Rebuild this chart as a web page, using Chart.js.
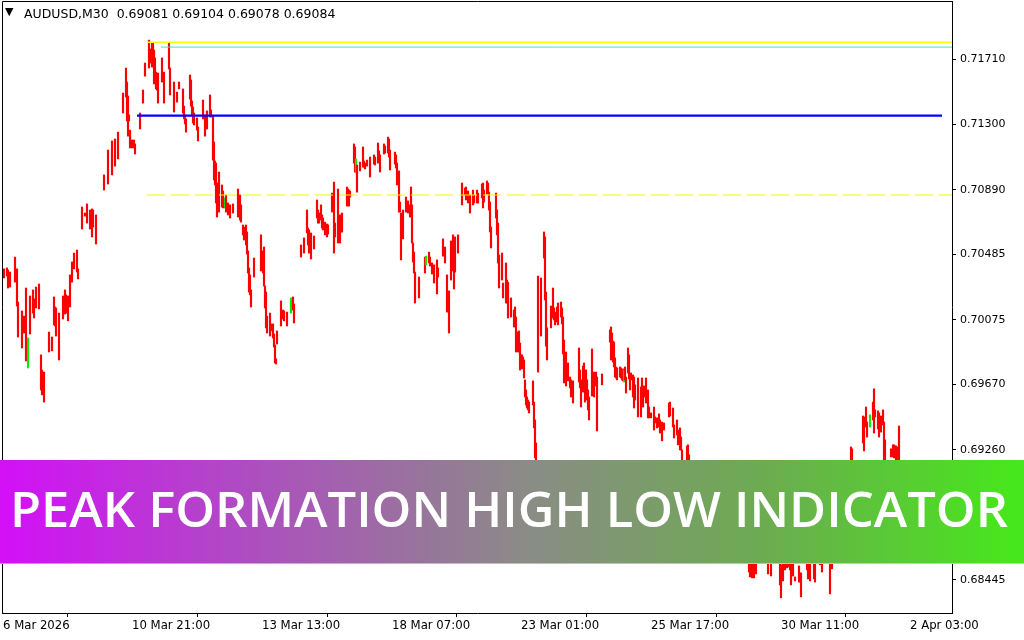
<!DOCTYPE html>
<html><head><meta charset="utf-8">
<script src="https://cdn.jsdelivr.net/npm/chart.js@4.4.1/dist/chart.umd.min.js"></script>
<style>
html,body{margin:0;padding:0;background:#fff;}
#wrap{position:relative;width:1024px;height:640px;overflow:hidden;background:#fff;}
#c{position:absolute;left:0;top:0;}
#tri{position:absolute;left:5px;top:6px;font:11px "DejaVu Sans",sans-serif;color:#000;line-height:12px;}
#hdr{position:absolute;left:24px;top:6px;font:12.5px "DejaVu Sans",sans-serif;color:#000;white-space:pre;line-height:15px;}
#banner{position:absolute;left:0;top:460px;width:1024px;height:104px;
  background:linear-gradient(90deg,#d30ff8 0%,#ad4fbf 25%,#8b8b87 51%,#6cac50 75%,#46e91a 100%);
  border-bottom:1px solid rgba(255,255,255,0.45);box-sizing:border-box;}
#btxt{position:absolute;left:10px;top:24px;font:600 49px "Open Sans",sans-serif;color:#fff;white-space:nowrap;line-height:49px;transform-origin:0 0;}
</style></head>
<body>
<div id="wrap">
<canvas id="c" width="1024" height="640"></canvas>
<div id="tri">▼</div>
<div id="hdr">AUDUSD,M30  0.69081 0.69104 0.69078 0.69084</div>
<div id="banner"><span id="btxt">PEAK FORMATION HIGH LOW INDICATOR</span></div>
</div>
<script>
// 30-minute bar index (0 = first bar shown)
const barIdx = [
1,4,5,7,12,14,15,19,21,23,
25,27,30,31,33,36,38,39,40,41,
46,49,51,52,53,56,60,62,63,65,
67,69,71,74,75,79,82,84,87,89,
90,93,101,105,109,112,115,120,123,124,
125,126,127,129,131,132,137,140,142,146,
147,148,149,150,151,152,153,154,155,159,
161,166,167,171,174,176,180,181,182,183,
187,188,189,190,191,194,195,200,202,204,
207,208,210,211,212,213,214,216,219,220,
222,223,225,227,230,235,237,238,240,241,
243,244,245,246,247,248,251,258,260,261,
262,263,264,267,268,270,271,272,273,274,
278,280,281,284,288,290,291,298,301,304,
305,306,307,308,311,314,315,316,318,319,
320,322,324,325,329,331,332,335,337,338,
339,344,345,346,347,351,352,353,354,357,
360,361,362,364,367,371,372,375,376,377,
381,382,385,386,387,392,393,394,396,397,
398,400,403,405,407,408,409,410,411,412,
416,422,423,426,427,429,431,434,435,440,
442,444,446,448,450,451,452,455,459,462,
463,465,467,470,471,474,475,479,480,481,
484,485,486,487,488,493,494,495,496,499,
500,503,504,505,508,511,512,513,515,516,
517,518,519,520,521,522,523,524,525,526,
530,531,532,533,535,538,541,542,543,544,
548,550,551,552,554,555,558,559,560,561,
563,565,567,568,570,576,577,578,580,581,
582,583,584,585,586,589,591,593,594,599,
607,608,609,610,611,612,613,614,617,618,
619,620,621,622,623,625,626,627,628,630,
631,632,635,638,639,640,641,643,645,646,
648,651,652,654,656,657,659,661,666,667,
670,671,674,675,677,678,679,684,685,686,
691,697,703,709,715,721,727,733,739,746,
747,749,751,753,757,765,768,773,777,778,
780,782,784,786,787,788,790,792,796,797,
798,804,805,807,811,812,817,819,823,827,
829,835,841,845,848,849,855,860,861,863,
864,867,870,871,872,875,876,878,880,881,
882,888,890,891,892,893,894,896,898
];
const barHigh = [
.70395,.70401,.70388,.70375,.70469,.70395,.70187,.70131,.70099,.70275,
.69962,.70225,.70263,.70207,.70281,.70300,.69856,.69761,.69748,.69748,
.69999,.69968,.70219,.70156,.70150,.70118,.70225,.70263,.70232,.70225,
.70357,.70438,.70494,.70513,.70395,.70783,.70745,.70802,.70764,.70771,
.70764,.70733,.70984,.71140,.71197,.71209,.71252,.71497,.71654,.71566,
.71478,.71360,.71265,.71203,.71203,.71178,.71372,.71516,.71685,.71829,
.71754,.71773,.71810,.71810,.71767,.71717,.71628,.71622,.71622,.71717,
.71628,.71810,.71654,.71566,.71503,.71566,.71523,.71415,.71360,.71335,
.71610,.71579,.71447,.71409,.71372,.71341,.71284,.71453,.71360,.71385,
.71485,.71391,.71353,.71190,.71071,.71058,.70933,.71002,.70921,.70883,
.70839,.70858,.70808,.70796,.70802,.70896,.70858,.70796,.70670,.70657,
.70670,.70626,.70507,.70401,.70357,.70263,.70463,.70608,.70507,.70532,
.70287,.70250,.70099,.70118,.70050,.70050,.69987,.69918,.69831,.70006,
.70194,.70137,.70131,.70124,.70213,.70219,.70175,.70545,.70589,.70764,
.70651,.70639,.70608,.70620,.70601,.70827,.70764,.70745,.70796,.70733,
.70714,.70688,.70676,.70670,.70870,.70939,.70682,.70896,.70733,.70733,
.70745,.70908,.70896,.70889,.70883,.71178,.71159,.71084,.71046,.71064,
.71159,.71071,.71058,.71077,.71096,.71109,.71096,.71184,.71134,.71109,
.71178,.71165,.71221,.71209,.71140,.71127,.71109,.71058,.71009,.70814,
.70745,.70764,.70845,.70821,.70796,.70908,.70796,.70557,.70500,.70375,
.70344,.70469,.70475,.70500,.70469,.70432,.70420,.70451,.70401,.70583,
.70532,.70357,.70257,.70570,.70608,.70432,.70595,.70608,.70933,.70902,
.70908,.70883,.70858,.70889,.70858,.70889,.70870,.70927,.70933,.70889,
.70946,.70933,.70876,.70814,.70657,.70870,.70764,.70682,.70482,.70494,
.70306,.70432,.70325,.70312,.70213,.70137,.70156,.70093,.69999,.70006,
.69930,.69856,.69856,.69843,.69824,.69699,.69636,.69592,.69573,.69560,
.69693,.69560,.69448,.69304,.70350,.70338,.70626,.70595,.70250,.70025,
.70162,.70275,.70150,.70124,.70156,.70181,.70187,.70150,.70093,.69949,
.69874,.69805,.69717,.69699,.69693,.69899,.69761,.69699,.69786,.69805,
.69761,.69761,.69699,.69636,.69592,.69893,.69748,.69748,.69717,.69736,
.70012,.70031,.69993,.69943,.69936,.69837,.69780,.69774,.69780,.69774,
.69761,.69768,.69761,.69780,.69717,.69899,.69856,.69742,.69742,.69730,
.69717,.69668,.69711,.69655,.69711,.69661,.69661,.69711,.69636,.69529,
.69492,.69529,.69467,.69461,.69486,.69448,.69435,.69429,.69554,.69560,
.69523,.69417,.69448,.69385,.69398,.69341,.69260,.69285,.69292,.69229,
.69166,.69072,.69022,.68947,.68916,.68853,.68790,.68728,.68665,.68602,
.68571,.68583,.68571,.68602,.68633,.68633,.68595,.68646,.68571,.68540,
.68552,.68595,.68620,.68633,.68602,.68571,.68571,.68464,.68533,.68489,
.68489,.68620,.68571,.68558,.68571,.68558,.68665,.68602,.68696,.68646,
.68665,.68821,.69009,.69166,.69279,.69267,.69184,.69473,.69467,.69529,
.69435,.69480,.69560,.69643,.69511,.69505,.69492,.69473,.69511,.69435,
.69323,.69267,.69292,.69292,.69285,.69285,.69279,.69410,.69104
];
const barLow = [
.70338,.70350,.70275,.70281,.70312,.70162,.69968,.69899,.69993,.69818,
.69774,.69987,.70118,.70087,.70150,.70144,.69636,.69605,.69617,.69560,
.69874,.69881,.70044,.70037,.69974,.69824,.70081,.70112,.70118,.70069,
.70156,.70312,.70395,.70375,.70332,.70645,.70726,.70682,.70645,.70595,
.70657,.70551,.70889,.70927,.70984,.71039,.71084,.71372,.71472,.71322,
.71227,.71322,.71153,.71153,.71153,.71115,.71272,.71434,.71603,.71654,
.71704,.71685,.71660,.71704,.71554,.71597,.71523,.71516,.71434,.71566,
.71434,.71648,.71485,.71378,.71440,.71523,.71372,.71335,.71303,.71252,
.71460,.71415,.71360,.71309,.71297,.71265,.71197,.71335,.71227,.71272,
.71347,.71347,.71077,.70952,.70921,.70808,.70720,.70751,.70783,.70777,
.70777,.70751,.70733,.70714,.70745,.70720,.70701,.70688,.70608,.70576,
.70545,.70488,.70369,.70250,.70232,.70156,.70344,.70382,.70369,.70287,
.70150,.70025,.69993,.69974,.70006,.69962,.69905,.69805,.69799,.69924,
.70037,.70081,.70069,.70037,.70118,.70137,.70056,.70469,.70494,.70620,
.70545,.70494,.70500,.70457,.70520,.70714,.70682,.70682,.70701,.70651,
.70639,.70608,.70595,.70614,.70751,.70494,.70595,.70557,.70557,.70626,
.70626,.70789,.70789,.70789,.70845,.71058,.71002,.70996,.70876,.71009,
.71033,.71033,.71021,.71039,.70971,.71052,.71046,.71058,.71096,.71002,
.71115,.71121,.71121,.71096,.71015,.71052,.71027,.70921,.70751,.70751,
.70451,.70583,.70751,.70745,.70720,.70720,.70557,.70438,.70369,.70181,
.70213,.70369,.70420,.70432,.70413,.70363,.70306,.70238,.70344,.70475,
.70432,.70124,.69993,.70325,.70382,.70269,.70375,.70494,.70796,.70858,
.70827,.70808,.70745,.70796,.70808,.70808,.70808,.70839,.70777,.70814,
.70864,.70870,.70764,.70626,.70526,.70714,.70608,.70432,.70275,.70325,
.70213,.70181,.70181,.70087,.70093,.70031,.70031,.69874,.69874,.69874,
.69761,.69805,.69768,.69774,.69711,.69592,.69542,.69523,.69511,.69492,
.69542,.69398,.69210,.69135,.69748,.69974,.70463,.70200,.69911,.69824,
.70025,.70087,.70075,.70044,.70062,.70044,.70093,.70050,.69862,.69680,
.69661,.69693,.69649,.69592,.69554,.69686,.69649,.69529,.69623,.69699,
.69560,.69655,.69573,.69511,.69448,.69598,.69592,.69661,.69379,.69668,
.69936,.69824,.69874,.69811,.69780,.69717,.69711,.69699,.69717,.69711,
.69699,.69693,.69686,.69699,.69617,.69742,.69705,.69636,.69699,.69592,
.69523,.69573,.69467,.69467,.69617,.69529,.69592,.69554,.69461,.69461,
.69461,.69385,.69429,.69398,.69404,.69366,.69317,.69385,.69467,.69473,
.69404,.69335,.69354,.69292,.69260,.69260,.69184,.69135,.69147,.69104,
.69009,.68947,.68871,.68821,.68759,.68696,.68646,.68602,.68558,.68495,
.68464,.68458,.68458,.68483,.68558,.68483,.68470,.68558,.68414,.68333,
.68439,.68508,.68521,.68527,.68508,.68414,.68470,.68439,.68432,.68432,
.68339,.68508,.68452,.68439,.68452,.68432,.68540,.68495,.68571,.68358,
.68515,.68665,.68821,.68978,.69135,.69122,.69041,.69304,.69254,.69404,
.69341,.69404,.69448,.69366,.69467,.69392,.69341,.69372,.69417,.69197,
.69184,.69216,.69216,.69210,.69216,.69197,.69184,.69135,.69078
];
// bars painted green
const greenBars = [25,222,288,353,423,621,867];

// price axis labels
const priceTicks = [0.71710,0.71300,0.70890,0.70485,0.70075,0.69670,0.69260,0.68850,0.68445];
// time axis labels and their bar index
const timeTickIdx = [0,129,259,389,518,648,778,907];
const timeTickLabels = ['6 Mar 2026','10 Mar 21:00','13 Mar 13:00','18 Mar 07:00','23 Mar 01:00','25 Mar 17:00','30 Mar 11:00','2 Apr 03:00'];

// indicator levels: price, start bar, end bar
const levelPrice = [0.71815, 0.71785, 0.71355, 0.70858];
const levelStart = [144, 158, 134, 144];
const levelEnd   = [949, 949, 939, 949];

if (barIdx.length !== barHigh.length || barIdx.length !== barLow.length) {
  console.error('length mismatch', barIdx.length, barHigh.length, barLow.length);
}

const levelStyle = [
  {color:'#ffff00', width:1.5, dash:[]},
  {color:'#40e0d0', width:1, dash:[]},
  {color:'#0000ff', width:2.2, dash:[]},
  {color:'#f4f400', width:1, dash:[18,6]}
];

const candleData = barIdx.map((t,i)=>({x:t, y:[barLow[i], barHigh[i]]}));
const candleColors = barIdx.map(t => greenBars.includes(t) ? '#00ee00' : '#ff0000');

const levelSets = levelPrice.map((p,i)=>({
  type:'line',
  data:[{x:levelStart[i], y:p},{x:levelEnd[i], y:p}],
  borderColor:levelStyle[i].color,
  borderWidth:levelStyle[i].width,
  borderDash:levelStyle[i].dash,
  pointRadius:0, fill:false, tension:0, order:0
}));

const framePlugin = {
  id:'frame',
  afterDraw(chart){
    const {ctx, chartArea:a} = chart;
    ctx.save();
    ctx.strokeStyle = '#000';
    ctx.lineWidth = 1;
    ctx.beginPath();
    ctx.moveTo(a.left+0.5, a.bottom);
    ctx.lineTo(a.left+0.5, a.top+0.5);
    ctx.lineTo(a.right, a.top+0.5);
    ctx.stroke();
    ctx.restore();
  }
};

// y range from the picture's pixel scale
const yMax = 0.72074, yMin = 0.68238;

new Chart(document.getElementById('c'), {
  type:'bar',
  data:{ datasets:[
    ...levelSets,
    { type:'bar', data:candleData, backgroundColor:candleColors, borderWidth:0,
      barThickness:1.5, grouped:false, order:1 }
  ]},
  options:{
    responsive:false, animation:false, devicePixelRatio:1,
    layout:{padding:{left:2, top:1, right:0, bottom:0}},
    plugins:{legend:{display:false}, tooltip:{enabled:false}, title:{display:false}},
    scales:{
      x:{ type:'linear', min:-1, max:949, offset:false,
        afterBuildTicks:(s)=>{ s.ticks = timeTickIdx.map(v=>({value:v})); },
        afterFit:(s)=>{ s.height = 27; s.paddingLeft = 0; s.paddingRight = 0; },
        ticks:{ autoSkip:false, maxRotation:0, minRotation:0, align:'start', padding:1, color:'#000',
          font:{family:'"DejaVu Sans Condensed","Liberation Sans Narrow",sans-serif', size:13},
          callback:(v)=>{ const k = timeTickIdx.indexOf(v); return k>=0 ? timeTickLabels[k] : ''; } },
        grid:{ drawOnChartArea:false, drawTicks:true, tickLength:4, color:'#000' },
        border:{ display:true, color:'#000', width:1 }
      },
      y:{ position:'right', min:yMin, max:yMax,
        afterBuildTicks:(s)=>{ s.ticks = priceTicks.map(v=>({value:v})); },
        afterFit:(s)=>{ s.width = 72; s.paddingTop = 0; s.paddingBottom = 0; },
        ticks:{ autoSkip:false, padding:4, color:'#000',
          font:{family:'"DejaVu Sans",sans-serif', size:11},
          callback:(v)=> Number(v).toFixed(5) },
        grid:{ drawOnChartArea:false, drawTicks:true, tickLength:4, color:'#000' },
        border:{ display:true, color:'#000', width:1 }
      }
    }
  },
  plugins:[framePlugin]
});

function fitBanner(){
  const el = document.getElementById('btxt');
  el.style.transform = 'none';
  const w = el.offsetWidth;
  if (w > 0) el.style.transform = 'scaleX(' + (998 / w) + ')';
}
fitBanner();
if (document.fonts && document.fonts.ready) document.fonts.ready.then(fitBanner);
</script>
</body></html>
